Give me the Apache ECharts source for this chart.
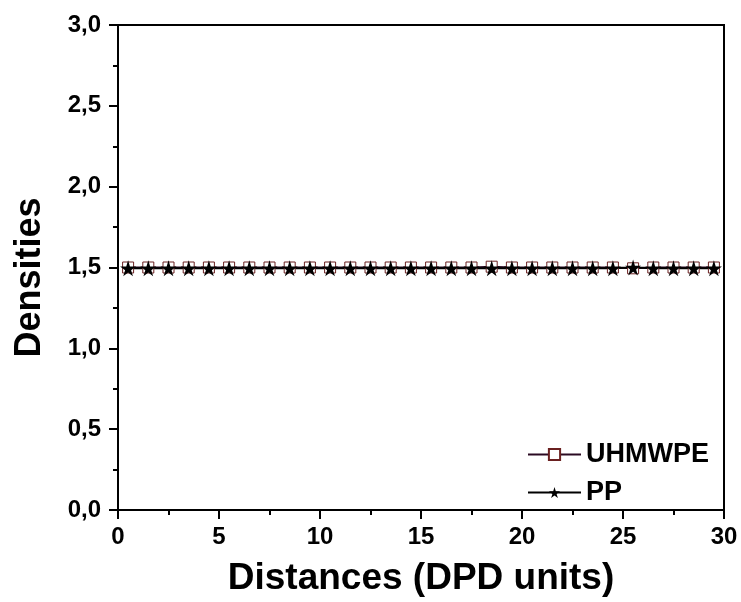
<!DOCTYPE html>
<html>
<head>
<meta charset="utf-8">
<script src="https://cdn.jsdelivr.net/npm/echarts@6/dist/echarts.min.js"></script>
<style>html,body{margin:0;padding:0;background:#fff;}#c{width:741px;height:602px;}</style>
</head>
<body>
<div id="c"></div>
<script>
var distances = [0.5,1.5,2.5,3.5,4.5,5.5,6.5,7.5,8.5,9.5,10.5,11.5,12.5,13.5,14.5,15.5,16.5,17.5,18.5,19.5,20.5,21.5,22.5,23.5,24.5,25.5,26.5,27.5,28.5,29.5];
var uhmwpe = [1.50,1.50,1.50,1.50,1.50,1.50,1.50,1.50,1.50,1.50,1.50,1.50,1.50,1.50,1.50,1.50,1.50,1.50,1.505,1.50,1.50,1.50,1.50,1.50,1.50,1.495,1.50,1.50,1.50,1.50];
var pp = [1.495,1.495,1.495,1.495,1.495,1.495,1.495,1.495,1.495,1.495,1.495,1.495,1.495,1.495,1.495,1.495,1.495,1.495,1.495,1.495,1.495,1.495,1.495,1.495,1.495,1.50,1.495,1.495,1.495,1.495];
var seriesNames = ['UHMWPE','PP'];
var xTitle = 'Distances (DPD units)';
var yTitle = 'Densities';

var FONT = '"Liberation Sans", Arial, sans-serif';
var STAR = 'path://M50,0 L61,35 L98,35 L68,57 L79,91 L50,70 L21,91 L32,57 L2,35 L39,35 Z';
function pairs(xs, ys){ return xs.map(function(x,i){ return [x, ys[i]]; }); }

var chart = echarts.init(document.getElementById('c'), null, {renderer:'canvas'});
chart.setOption({
  animation: false,
  backgroundColor: '#fff',
  grid: { left: 118, right: 17, top: 25, bottom: 90, show: true, borderColor: '#000', borderWidth: 2, backgroundColor: 'transparent' },
  legend: {
    orient: 'vertical', left: 522, top: 436, itemWidth: 53, itemHeight: 14, itemGap: 11,
    textStyle: { fontFamily: FONT, fontWeight: 'bold', fontSize: 27, color: '#000' },
    data: seriesNames
  },
  xAxis: {
    type: 'value', min: 0, max: 30, interval: 5,
    name: xTitle, nameLocation: 'middle', nameGap: 50,
    nameTextStyle: { fontFamily: FONT, fontWeight: 'bold', fontSize: 37, color: '#000' },
    axisLine: { show: true, lineStyle: { color: '#000', width: 2 } },
    axisTick: { show: true, inside: false, length: 9, lineStyle: { color: '#000', width: 2 } },
    minorTick: { show: true, splitNumber: 2, length: 5, lineStyle: { color: '#000', width: 2 } },
    splitLine: { show: false },
    axisLabel: { fontFamily: FONT, fontWeight: 'bold', fontSize: 24, color: '#000', margin: 15 }
  },
  yAxis: {
    type: 'value', min: 0, max: 3, interval: 0.5,
    name: yTitle, nameLocation: 'middle', nameGap: 70,
    nameTextStyle: { fontFamily: FONT, fontWeight: 'bold', fontSize: 36, color: '#000', padding: [0, 0, 0, -20] },
    axisLine: { show: true, lineStyle: { color: '#000', width: 2 } },
    axisTick: { show: true, inside: false, length: 9, lineStyle: { color: '#000', width: 2 } },
    minorTick: { show: true, splitNumber: 2, length: 5, lineStyle: { color: '#000', width: 2 } },
    splitLine: { show: false },
    axisLabel: { fontFamily: FONT, fontWeight: 'bold', fontSize: 24, color: '#000', margin: 17,
      formatter: function(v){ return v.toFixed(1).replace('.', ','); } }
  },
  series: [
    { name: seriesNames[0], type: 'line', data: pairs(distances, uhmwpe),
      symbol: 'rect', symbolSize: 11,
      lineStyle: { color: '#2a0a22', width: 2 },
      itemStyle: { color: '#ffffff', borderColor: '#6a2020', borderWidth: 1 } },
    { name: seriesNames[1], type: 'line', data: pairs(distances, pp),
      symbol: STAR, symbolSize: 16,
      lineStyle: { color: '#000', width: 2 },
      itemStyle: { color: '#000', borderColor: '#000', borderWidth: 0 } }
  ]
});
</script>
</body>
</html>
